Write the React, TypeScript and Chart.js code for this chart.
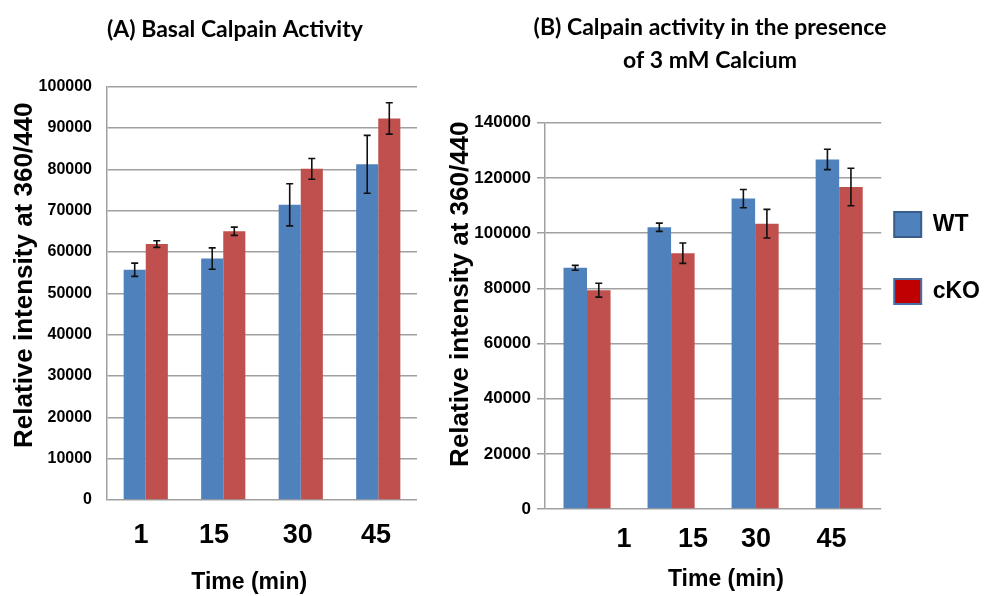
import React, { useEffect, useRef } from 'react';
import { Chart, registerables } from 'chart.js';

Chart.register(...registerables);

// ---------- data ----------
const timeLabels = ['1', '15', '30', '45'];
const seriesNames = ['WT', 'cKO'];

const basalWT = [55700, 58400, 71400, 81200];
const basalCKO = [61900, 65000, 80100, 92300];
const basalWTErr = [1600, 2600, 5100, 7000];
const basalCKOErr = [800, 1000, 2500, 3800];

const calciumWT = [87400, 102100, 112500, 126700];
const calciumCKO = [79300, 92700, 103400, 116700];
const calciumWTErr = [900, 1500, 3300, 3700];
const calciumCKOErr = [2500, 3700, 5200, 6800];

const basalYMax = 100000;
const basalYStep = 10000;
const calciumYMax = 140000;
const calciumYStep = 20000;

// where the time labels sit along each x axis (in category units)
const basalLabelAt = [-0.06, 0.88, 1.96, 2.97];
const calciumLabelAt = [0.44, 1.26, 2.01, 2.91];

// ---------- styles ----------
const ARIAL = "'Liberation Sans', Arial, sans-serif";
const TITLE_FONT = "Lato, 'Liberation Sans', sans-serif";
const BLUE = '#4F81BD';
const RED = '#C0504D';
const GRID = '#A0A0A0';

function errorBars(errs: number[][]) {
  return {
    id: 'errorBars',
    afterDatasetsDraw(chart: any) {
      const ctx = chart.ctx;
      const y = chart.scales.y;
      chart.data.datasets.forEach((ds: any, di: number) => {
        const meta = chart.getDatasetMeta(di);
        meta.data.forEach((bar: any, i: number) => {
          const v = ds.data[i] as number;
          const e = errs[di][i];
          const x = bar.x;
          const yt = y.getPixelForValue(v + e);
          const yb = y.getPixelForValue(v - e);
          ctx.save();
          ctx.strokeStyle = '#111';
          ctx.lineWidth = 1.6;
          ctx.beginPath();
          ctx.moveTo(x, yt);
          ctx.lineTo(x, yb);
          ctx.moveTo(x - 3.5, yt);
          ctx.lineTo(x + 3.5, yt);
          ctx.moveTo(x - 3.5, yb);
          ctx.lineTo(x + 3.5, yb);
          ctx.stroke();
          ctx.restore();
        });
      });
    },
  };
}

function makeConfig(p: {
  wt: number[];
  cko: number[];
  errs: number[][];
  yMax: number;
  yStep: number;
  labelAt: number[];
  title: string | string[];
  titleAlign: 'start' | 'center';
  titleFull: boolean;
  titleLineHeight: number;
  titlePad: { top: number; bottom: number };
  yTitle: string;
  yTitlePad: number;
  yWidth: number;
  yTickLen: number;
  yTickPad: number;
  yTickSize: number;
  xTitle: string;
  xHeight: number;
  xTickPad: number;
  xTitlePadBottom: number;
  catPct: number;
  padRight: number;
  legend: boolean;
}) {
  return {
    type: 'bar',
    data: {
      labels: timeLabels,
      datasets: [
        {
          label: seriesNames[0],
          data: p.wt,
          backgroundColor: BLUE,
          borderWidth: 0,
          xAxisID: 'x',
          yAxisID: 'y',
          categoryPercentage: p.catPct,
          barPercentage: 1,
        },
        {
          label: seriesNames[1],
          data: p.cko,
          backgroundColor: RED,
          borderWidth: 0,
          xAxisID: 'x',
          yAxisID: 'y',
          categoryPercentage: p.catPct,
          barPercentage: 1,
        },
      ],
    },
    options: {
      responsive: false,
      animation: false,
      devicePixelRatio: 1,
      layout: { padding: { left: 0, right: p.padRight, top: 0, bottom: 0 } },
      plugins: {
        tooltip: { enabled: false },
        legend: p.legend
          ? {
              display: true,
              position: 'right',
              align: 'start',
              title: { display: true, text: '', font: { size: 10, lineHeight: 1 }, padding: { top: 189, bottom: 0 } },
              labels: {
                boxWidth: 27,
                boxHeight: 25,
                padding: 13,
                color: '#000',
                font: { family: ARIAL, size: 23, weight: 'bold', lineHeight: 16 / 23 },
                generateLabels: (chart: any) => {
                  const ds = chart.data.datasets;
                  return [
                    { text: ds[0].label, fillStyle: BLUE, strokeStyle: '#385D8A', fontColor: '#000', lineWidth: 2, hidden: false, datasetIndex: 0 },
                    { text: [''], fillStyle: 'rgba(0,0,0,0)', strokeStyle: 'rgba(0,0,0,0)', fontColor: '#000', lineWidth: 0, hidden: false },
                    { text: ds[1].label, fillStyle: '#C00000', strokeStyle: '#4A6FA5', fontColor: '#000', lineWidth: 2, hidden: false, datasetIndex: 1 },
                  ];
                },
              },
            }
          : { display: false },
        title: {
          display: true,
          text: p.title,
          align: p.titleAlign,
          fullSize: p.titleFull,
          color: '#000',
          font: { family: TITLE_FONT, size: 23, weight: 'bold', lineHeight: p.titleLineHeight },
          padding: p.titlePad,
        },
      },
      scales: {
        x: { type: 'category', display: false, offset: true },
        x2: {
          type: 'linear',
          position: 'bottom',
          offset: false,
          min: -0.5,
          max: 3.5,
          grid: { display: false, offset: false },
          border: { display: false },
          afterBuildTicks: (axis: any) => {
            axis.ticks = p.labelAt.map((v) => ({ value: v }));
          },
          afterFit: (axis: any) => {
            axis.height = p.xHeight;
          },
          ticks: {
            autoSkip: false,
            maxRotation: 0,
            padding: p.xTickPad,
            color: '#000',
            font: { family: ARIAL, size: 27, weight: 'bold', lineHeight: 1.2 },
            callback: (_v: any, i: number) => timeLabels[i],
          },
          title: {
            display: true,
            text: p.xTitle,
            color: '#000',
            font: { family: ARIAL, size: 23, weight: 'bold', lineHeight: 1 },
            padding: { top: 0, bottom: p.xTitlePadBottom },
          },
        },
        y: {
          min: 0,
          max: p.yMax,
          afterFit: (axis: any) => {
            axis.width = p.yWidth;
          },
          grid: { color: GRID, lineWidth: 1.5, drawTicks: p.yTickLen > 0, tickLength: p.yTickLen },
          border: { display: true, color: GRID, width: 1.5 },
          ticks: {
            stepSize: p.yStep,
            padding: p.yTickPad,
            color: '#000',
            font: { family: ARIAL, size: p.yTickSize, weight: 'bold' },
            callback: (v: any) => String(v),
          },
          title: {
            display: true,
            text: p.yTitle,
            color: '#000',
            font: { family: ARIAL, size: 26, weight: 'bold', lineHeight: 1 },
            padding: { top: p.yTitlePad, bottom: 0 },
          },
        },
      },
    },
    plugins: [errorBars(p.errs)],
  };
}

export default function App() {
  const refA = useRef<HTMLCanvasElement | null>(null);
  const refB = useRef<HTMLCanvasElement | null>(null);

  useEffect(() => {
    const cfgA: any = makeConfig({
      wt: basalWT,
      cko: basalCKO,
      errs: [basalWTErr, basalCKOErr],
      yMax: basalYMax,
      yStep: basalYStep,
      labelAt: basalLabelAt,
      title: '(A) Basal Calpain Activity',
      titleAlign: 'start',
      titleFull: false,
      titleLineHeight: 1.2,
      titlePad: { top: 16, bottom: 43 },
      yTitle: '     Relative intensity at 360/440',
      yTitlePad: 12,
      yWidth: 107,
      yTickLen: 0,
      yTickPad: 15,
      yTickSize: 16,
      xTitle: 'Time (min)    ',
      xHeight: 96,
      xTickPad: 11,
      xTitlePadBottom: 1.5,
      catPct: 0.57,
      padRight: 13,
      legend: false,
    });
    const cfgB: any = makeConfig({
      wt: calciumWT,
      cko: calciumCKO,
      errs: [calciumWTErr, calciumCKOErr],
      yMax: calciumYMax,
      yStep: calciumYStep,
      labelAt: calciumLabelAt,
      title: ['(B) Calpain activity in the presence', 'of 3 mM Calcium'],
      titleAlign: 'center',
      titleFull: true,
      titleLineHeight: 1.45,
      titlePad: { top: 11, bottom: 45 },
      yTitle: '      Relative intensity at 360/440',
      yTitlePad: 18,
      yWidth: 115,
      yTickLen: 8,
      yTickPad: 6,
      yTickSize: 17,
      xTitle: '    Time (min)',
      xHeight: 87,
      xTickPad: 6,
      xTitlePadBottom: 4.5,
      catPct: 0.56,
      padRight: 0,
      legend: true,
    });
    const a = new Chart(refA.current as HTMLCanvasElement, cfgA);
    const b = new Chart(refB.current as HTMLCanvasElement, cfgB);
    return () => {
      a.destroy();
      b.destroy();
    };
  }, []);

  return (
    <div style={{ position: 'fixed', left: 0, top: 0, width: 990, height: 596, background: '#fff', overflow: 'hidden' }}>
      <canvas ref={refA} width={430} height={596} style={{ position: 'absolute', left: 0, top: 0, width: 430, height: 596 }} />
      <canvas ref={refB} width={560} height={596} style={{ position: 'absolute', left: 430, top: 0, width: 560, height: 596 }} />
    </div>
  );
}
